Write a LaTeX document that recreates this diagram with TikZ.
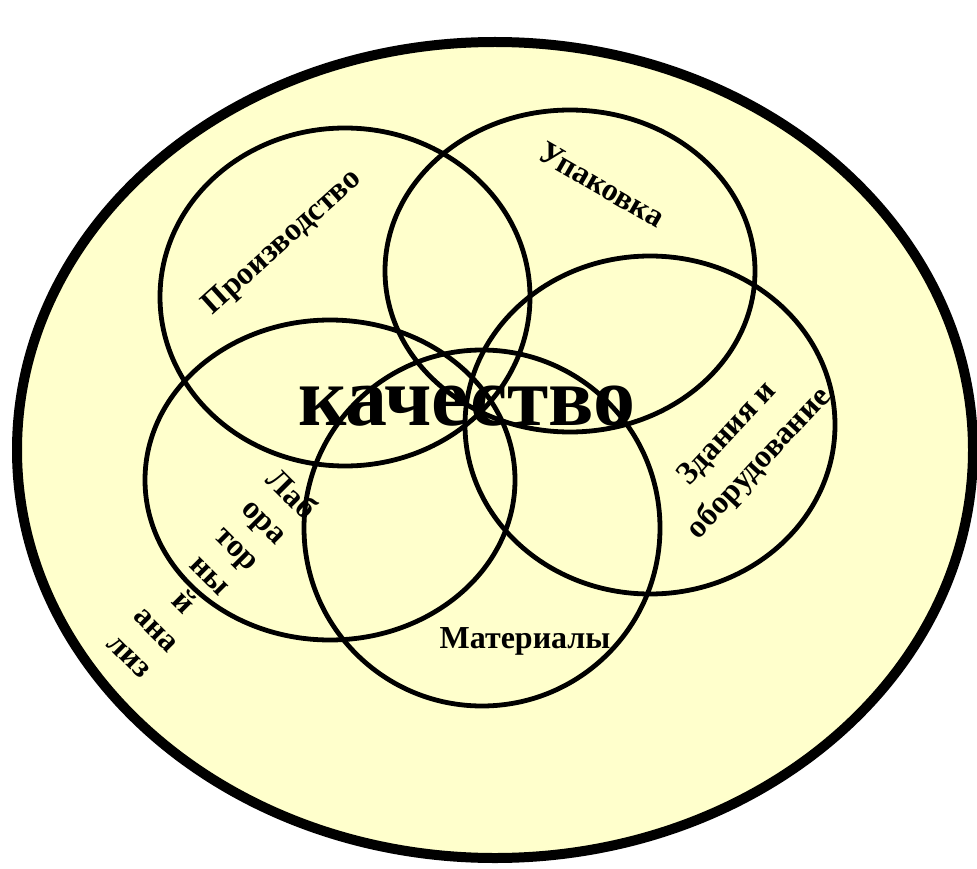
\documentclass[tikz,border=0pt]{standalone}
\usepackage{fontspec}
\setmainfont{Liberation Serif}
\definecolor{bgyellow}{HTML}{FFFFCC}
\tikzset{
  ring/.style={draw=black, line width=4.8pt},
  lbl/.style={font=\bfseries\fontsize{32}{38}\selectfont, inner sep=0pt, align=center},
}
\begin{document}
\begin{tikzpicture}[x=1pt,y=-1pt]
\useasboundingbox (0,0) rectangle (977,869);
\draw[fill=bgyellow, line width=10pt] (495,450) ellipse [x radius=478, y radius=408];
% circles
\draw[ring] (345,297) ellipse [x radius=185, y radius=169];
\draw[ring] (570,271) ellipse [x radius=185, y radius=161];
\draw[ring] (650,425) ellipse [x radius=185, y radius=169];
\draw[ring] (330,480) ellipse [x radius=185, y radius=160];
\draw[ring] (482,528) ellipse [x radius=178, y radius=178];
% labels
\node[lbl, rotate=42] (prod) at (283,243) {Производство};
\node[lbl, rotate=-30] (upak) at (602,185) {Упаковка};
\node[lbl, rotate=47, font=\bfseries\fontsize{32}{44}\selectfont] (zdan) at (744,449) {Здания и\\оборудование};
\node[lbl, rotate=-45] (lab) at (212,574) {Лаб\\ора\\тор\\ны\\й\\ана\\лиз};
\node[lbl, anchor=base] (mat) at (525,648) {Материалы};
\node[font=\bfseries\fontsize{84}{90}\selectfont, inner sep=0pt, anchor=base] (kach) at (467,425) {качество};
\end{tikzpicture}
\end{document}
